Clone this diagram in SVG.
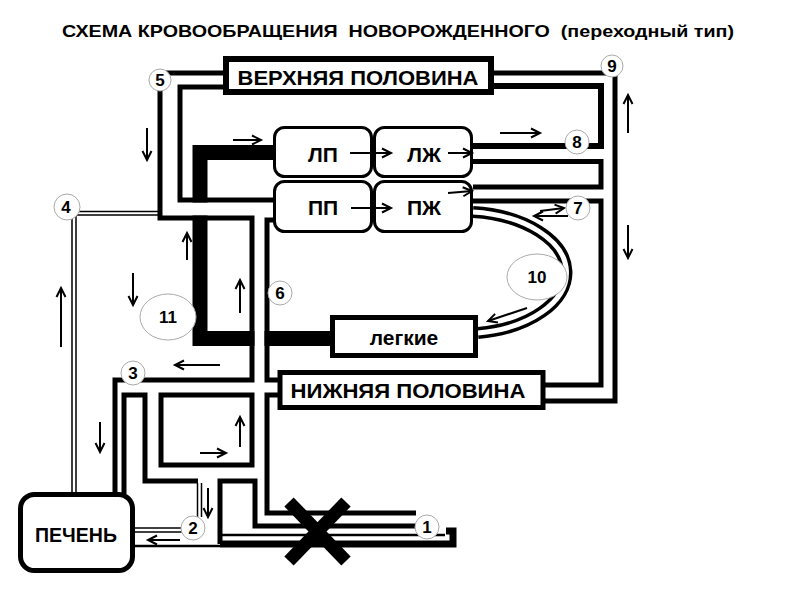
<svg xmlns="http://www.w3.org/2000/svg" width="800" height="600" viewBox="0 0 800 600">
<defs>
<marker id="ah" markerUnits="userSpaceOnUse" markerWidth="12" markerHeight="12" refX="9" refY="4.5" orient="auto" overflow="visible">
<path d="M0,0 L9,4.5 L0,9" fill="none" stroke="#000" stroke-width="2"/>
</marker>
<style>
text{font-family:"Liberation Sans",Arial,sans-serif;fill:#000}
.lbl{font-weight:bold}
.num{font-size:17px;font-weight:bold;text-anchor:middle}
.w{fill:none;stroke:#000;stroke-width:5;stroke-linejoin:miter}
.thin{fill:none;stroke:#000;stroke-width:1.5}
.a{fill:none;stroke:#000;stroke-width:2;marker-end:url(#ah)}
.box{fill:#fff;stroke:#000;stroke-width:5}
.ch{fill:#fff;stroke:#000;stroke-width:3}
.c{fill:#fff;stroke:#aaa;stroke-width:1}
</style>
</defs>
<rect width="800" height="600" fill="#fff"/>
<text x="398" y="37" font-size="17" font-weight="bold" text-anchor="middle" textLength="672" lengthAdjust="spacingAndGlyphs" style="white-space:pre">СХЕМА КРОВООБРАЩЕНИЯ  НОВОРОЖДЕННОГО  (переходный тип)</text>

<g id="connectors">
<polyline points="273,152.5 200,152.5 200,338.5 332,338.5" fill="none" stroke="#000" stroke-width="15"/>
<rect x="185" y="202.5" width="30" height="13" fill="#fff"/>
<rect x="254.5" y="328" width="10" height="22" fill="#fff"/>
<polyline class="w" points="226,73 160,73 160,218 252,218 252,380 115,380 115,494"/>
<polyline class="w" points="226,87 180,87 180,200 273,200"/>
<polyline class="w" points="275,220 267,220 267,380 278,380"/>
<polyline class="w" points="124,494 124,395 145,395 145,481 198,481"/>
<rect class="w" x="161" y="395" width="91" height="70"/>
<polyline class="w" points="278,395 267,395 267,513 416,513"/>
<polyline class="w" points="220,544 220,481 255,481 255,526 416,526"/>
<polyline points="220,544 453,544 453,531 446,531" fill="none" stroke="#000" stroke-width="7"/>
<line x1="222" y1="535" x2="445" y2="535" stroke="#000" stroke-width="2.5"/>
<line x1="135" y1="546" x2="220" y2="546" stroke="#000" stroke-width="2.5"/>
<polyline class="thin" points="158,211.5 72,211.5 72,493"/>
<polyline class="thin" points="158,215 76,215 76,493"/>
<line class="thin" x1="197.5" y1="483" x2="197.5" y2="517"/>
<line class="thin" x1="201.5" y1="483" x2="201.5" y2="517"/>
<line class="thin" x1="135" y1="528" x2="182" y2="528"/>
<line class="thin" x1="135" y1="532" x2="182" y2="532"/>
<polyline class="w" points="494,86 601,86 601,146 473,146" style="stroke-width:6"/>
<polyline class="w" points="494,73 615,73 615,401 545,401"/>
<polyline class="w" points="473,161.5 601,161.5 601,187 473,187"/>
<polyline class="w" points="473,201 601,201 601,385 545,385"/>
<path d="M473,212 A104,61 0 0 1 478,333" fill="none" stroke="#000" stroke-width="12"/>
<path d="M473,212 A104,61 0 0 1 478,333" fill="none" stroke="#fff" stroke-width="5"/>
<line class="a" x1="147" y1="128" x2="147" y2="160"/>
<line class="a" x1="233" y1="140" x2="261" y2="140"/>
<line class="a" x1="500" y1="133" x2="540" y2="133"/>
<line class="a" x1="628" y1="133" x2="628" y2="95"/>
<line class="a" x1="628" y1="225" x2="628" y2="258"/>
<line class="a" x1="540" y1="211" x2="564" y2="208"/>
<line class="a" x1="568" y1="216" x2="534" y2="216"/>
<line class="a" x1="527" y1="308" x2="488" y2="321"/>
<line class="a" x1="187" y1="260" x2="187" y2="233"/>
<line class="a" x1="133" y1="273" x2="133" y2="305"/>
<line class="a" x1="240" y1="313" x2="240" y2="280"/>
<line class="a" x1="61" y1="347" x2="61" y2="288"/>
<line class="a" x1="220" y1="365" x2="175" y2="365"/>
<line class="a" x1="100" y1="422" x2="100" y2="452"/>
<line class="a" x1="200" y1="453" x2="226" y2="453"/>
<line class="a" x1="240" y1="447" x2="240" y2="417"/>
<line class="a" x1="208" y1="488" x2="208" y2="517"/>
<line class="a" x1="180" y1="540" x2="148" y2="540"/>
<line x1="289" y1="502" x2="346" y2="561" stroke="#000" stroke-width="13"/>
<line x1="346" y1="502" x2="289" y2="561" stroke="#000" stroke-width="13"/>
</g>

<g id="upper"><rect class="box" x="226" y="59" width="265" height="33" style="stroke-width:6"/><text class="lbl" x="358" y="85" font-size="21" text-anchor="middle" textLength="241" lengthAdjust="spacingAndGlyphs">ВЕРХНЯЯ ПОЛОВИНА</text></g>
<g id="lower"><rect class="box" x="280" y="372.5" width="263" height="35"/><text class="lbl" x="408" y="398" font-size="21" text-anchor="middle" textLength="235" lengthAdjust="spacingAndGlyphs">НИЖНЯЯ ПОЛОВИНА</text></g>
<g id="lungs"><rect class="box" x="332.5" y="317.5" width="143" height="38"/><text class="lbl" x="404" y="345" font-size="21" text-anchor="middle">легкие</text></g>
<g id="liver"><rect class="box" x="20.5" y="494.5" width="112" height="76" rx="14"/><text class="lbl" x="76" y="542" font-size="19.5" text-anchor="middle">ПЕЧЕНЬ</text></g>
<g id="LA"><rect class="ch" x="274.5" y="127.5" width="97" height="49" rx="10"/><text class="lbl" x="323" y="162" font-size="21" text-anchor="middle">ЛП</text></g>
<g id="LV"><rect class="ch" x="374.5" y="127.5" width="97" height="49" rx="10"/><text class="lbl" x="424" y="162" font-size="21" text-anchor="middle">ЛЖ</text></g>
<g id="RA"><rect class="ch" x="274.5" y="181.5" width="97" height="50" rx="10"/><text class="lbl" x="323" y="215" font-size="21" text-anchor="middle">ПП</text></g>
<g id="RV"><rect class="ch" x="374.5" y="181.5" width="97" height="50" rx="10"/><text class="lbl" x="424" y="215" font-size="21" text-anchor="middle">ПЖ</text></g>
<g id="heart-arrows">
<line class="a" x1="350" y1="153" x2="391" y2="153"/>
<line class="a" x1="351" y1="208" x2="391" y2="208"/>
<line class="a" x1="448" y1="153" x2="472" y2="153"/>
<line class="a" x1="448" y1="193" x2="472" y2="191"/>
</g>

<g id="n1"><circle class="c" cx="427" cy="527" r="12"/><text class="num" x="427" y="533">1</text></g>
<g id="n2"><circle class="c" cx="193" cy="528" r="12"/><text class="num" x="193" y="534">2</text></g>
<g id="n3"><circle class="c" cx="133" cy="373" r="12"/><text class="num" x="133" y="379">3</text></g>
<g id="n4"><circle class="c" cx="67" cy="207" r="13"/><text class="num" x="66" y="213">4</text></g>
<g id="n5"><circle class="c" cx="160" cy="80" r="11"/><text class="num" x="160" y="86">5</text></g>
<g id="n6"><circle class="c" cx="280" cy="293" r="12"/><text class="num" x="280" y="299">6</text></g>
<g id="n7"><circle class="c" cx="578" cy="208" r="12"/><text class="num" x="578" y="214">7</text></g>
<g id="n8"><circle class="c" cx="577" cy="142" r="12"/><text class="num" x="577" y="148">8</text></g>
<g id="n9"><circle class="c" cx="612" cy="66" r="11"/><text class="num" x="612" y="72">9</text></g>
<g id="n10"><ellipse class="c" cx="537" cy="277" rx="30" ry="23"/><text class="num" x="537" y="283">10</text></g>
<g id="n11"><ellipse class="c" cx="168" cy="317" rx="28" ry="23"/><text class="num" x="168" y="323">11</text></g>
</svg>
